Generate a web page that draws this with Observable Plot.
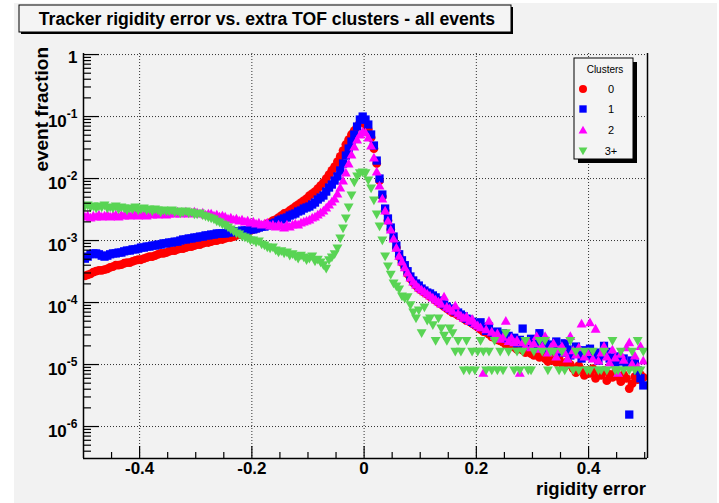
<!DOCTYPE html>
<html><head><meta charset="utf-8">
<script src="https://cdn.jsdelivr.net/npm/d3@7"></script>
<script src="https://cdn.jsdelivr.net/npm/@observablehq/plot@0.6"></script>
<style>
body{margin:0;background:#fff;}
#wrap{position:relative;width:719px;height:503px;overflow:hidden;}
#panel{position:absolute;left:14px;top:3px;width:703px;height:500px;background:#f2f2f2;}
#wrap svg{position:absolute;left:0;top:0;}
</style></head>
<body><div id="wrap"><div id="panel"></div></div>
<script>
// ---- data (histogram, 200 bins of width 0.005 from -0.5 to 0.5) ----
const binStart = -0.5, binWidth = 0.005;
const title = "Tracker rigidity error vs. extra TOF clusters - all events";
const xTitle = "rigidity error";
const yTitle = "event fraction";
const legendTitle = "Clusters";
const seriesNames = ["0", "1", "2", "3+"];
const seriesColors = ["#ff0000", "#0000ff", "#ff00ff", "#59d454"];

const clusters0 = [
2.7e-4,2.8e-4,2.9e-4,3.1e-4,3.2e-4,3.3e-4,3.3e-4,3.4e-4,3.5e-4,3.7e-4,
3.8e-4,4.0e-4,4.0e-4,4.1e-4,4.3e-4,4.4e-4,4.4e-4,4.6e-4,4.8e-4,4.9e-4,
4.9e-4,5.1e-4,5.3e-4,5.5e-4,5.5e-4,5.7e-4,6.0e-4,6.2e-4,6.2e-4,6.4e-4,
6.7e-4,6.9e-4,6.9e-4,7.2e-4,7.4e-4,7.4e-4,7.7e-4,8.0e-4,8.0e-4,8.3e-4,
8.6e-4,8.6e-4,9.0e-4,9.3e-4,9.3e-4,9.6e-4,1.0e-3,1.0e-3,1.04e-3,1.04e-3,
1.08e-3,1.12e-3,1.12e-3,1.16e-3,1.21e-3,1.25e-3,1.30e-3,1.35e-3,1.40e-3,1.45e-3,
1.51e-3,1.56e-3,1.62e-3,1.68e-3,1.75e-3,1.88e-3,1.95e-3,2.10e-3,2.18e-3,2.35e-3,
2.53e-3,2.73e-3,2.83e-3,3.05e-3,3.28e-3,3.54e-3,3.81e-3,4.10e-3,4.42e-3,4.76e-3,
5.32e-3,5.73e-3,6.17e-3,6.90e-3,7.71e-3,8.62e-3,1.00e-2,1.16e-2,1.35e-2,1.56e-2,
1.88e-2,2.27e-2,2.83e-2,3.54e-2,4.26e-2,5.13e-2,5.95e-2,6.90e-2,8.00e-2,8.31e-2,
7.43e-2,6.17e-2,4.59e-2,3.05e-2,1.75e-2,9.28e-3,5.13e-3,3.05e-3,2.10e-3,1.51e-3,
1.08e-3,7.7e-4,5.5e-4,4.4e-4,3.7e-4,2.9e-4,2.44e-4,2.10e-4,1.88e-4,1.68e-4,
1.56e-4,1.45e-4,1.35e-4,1.25e-4,1.21e-4,1.08e-4,1.00e-4,9.3e-5,8.6e-5,8.0e-5,
7.4e-5,6.9e-5,6.7e-5,6.2e-5,6.0e-5,5.5e-5,5.1e-5,4.9e-5,4.6e-5,4.3e-5,
4.0e-5,3.7e-5,3.4e-5,3.3e-5,3.1e-5,2.8e-5,2.7e-5,2.5e-5,2.4e-5,2.3e-5,
2.1e-5,2.0e-5,2.2e-5,1.9e-5,1.75e-5,2.0e-5,1.7e-5,1.56e-5,1.8e-5,1.5e-5,
1.4e-5,1.6e-5,1.3e-5,1.45e-5,1.25e-5,1.12e-5,1.35e-5,1.16e-5,1.08e-5,1.25e-5,
1.04e-5,9.3e-6,1.12e-5,1.0e-5,8.6e-6,7.4e-6,9.6e-6,8.3e-6,6.7e-6,8.0e-6,
7.2e-6,8.6e-6,6.0e-6,7.4e-6,6.7e-6,8.0e-6,5.5e-6,6.9e-6,6.2e-6,7.4e-6,
6.4e-6,5.3e-6,6.9e-6,6.0e-6,4.1e-6,4.9e-6,6.4e-6,5.7e-6,6.9e-6,6.2e-6];

const clusters1 = [
5.1e-4,5.5e-4,6.0e-4,6.2e-4,6.2e-4,6.0e-4,5.7e-4,5.5e-4,5.7e-4,6.0e-4,
6.2e-4,6.2e-4,6.4e-4,6.4e-4,6.7e-4,6.9e-4,6.9e-4,7.2e-4,7.2e-4,7.4e-4,
7.7e-4,7.7e-4,8.0e-4,8.0e-4,8.3e-4,8.3e-4,8.6e-4,8.6e-4,9.0e-4,9.0e-4,
9.3e-4,9.3e-4,9.6e-4,9.6e-4,1.0e-3,1.04e-3,1.04e-3,1.08e-3,1.08e-3,1.12e-3,
1.12e-3,1.16e-3,1.16e-3,1.21e-3,1.21e-3,1.25e-3,1.25e-3,1.30e-3,1.30e-3,1.30e-3,
1.30e-3,1.35e-3,1.35e-3,1.40e-3,1.40e-3,1.40e-3,1.45e-3,1.45e-3,1.45e-3,1.51e-3,
1.51e-3,1.56e-3,1.62e-3,1.68e-3,1.68e-3,1.75e-3,1.81e-3,1.88e-3,1.95e-3,2.10e-3,
2.18e-3,2.27e-3,2.35e-3,2.53e-3,2.63e-3,2.73e-3,2.94e-3,3.05e-3,3.28e-3,3.41e-3,
3.54e-3,3.81e-3,4.10e-3,4.59e-3,4.94e-3,5.32e-3,6.17e-3,7.16e-3,8.00e-3,9.28e-3,
1.08e-2,1.35e-2,1.75e-2,2.35e-2,3.05e-2,3.95e-2,5.13e-2,6.90e-2,8.95e-2,1.00e-1,
8.95e-2,7.43e-2,5.13e-2,3.41e-2,1.95e-2,1.00e-2,5.52e-3,3.28e-3,2.27e-3,1.62e-3,
1.16e-3,8.3e-4,6.0e-4,4.8e-4,4.0e-4,3.2e-4,2.63e-4,2.27e-4,2.03e-4,1.88e-4,
1.68e-4,1.56e-4,1.45e-4,1.40e-4,1.30e-4,1.21e-4,1.08e-4,1.00e-4,9.3e-5,8.6e-5,
8.0e-5,7.7e-5,7.2e-5,6.9e-5,6.4e-5,6.0e-5,5.5e-5,5.3e-5,4.9e-5,4.6e-5,
4.3e-5,4.8e-5,4.0e-5,3.5e-5,4.1e-5,3.3e-5,3.1e-5,3.4e-5,2.8e-5,3.2e-5,
2.6e-5,2.9e-5,2.4e-5,2.7e-5,2.2e-5,2.5e-5,3.8e-5,2.1e-5,2.35e-5,2.6e-5,
2.0e-5,2.3e-5,3.2e-5,1.95e-5,2.4e-5,1.8e-5,2.1e-5,1.7e-5,2.35e-5,1.9e-5,
1.56e-5,2.2e-5,1.75e-5,1.4e-5,1.6e-5,1.95e-5,1.5e-5,1.25e-5,1.7e-5,1.45e-5,
1.8e-5,1.35e-5,1.56e-5,1.16e-5,1.4e-5,2.0e-5,1.6e-5,1.25e-5,1.3e-5,1.08e-5,
1.35e-5,1.12e-5,1.25e-5,9.6e-6,1.56e-6,1.16e-5,1.04e-5,8.0e-6,6.0e-6,4.6e-6];

const clusters2 = [
2.44e-3,2.53e-3,2.35e-3,2.53e-3,2.44e-3,2.63e-3,2.44e-3,2.53e-3,2.63e-3,2.44e-3,
2.53e-3,2.63e-3,2.44e-3,2.63e-3,2.53e-3,2.73e-3,2.53e-3,2.63e-3,2.73e-3,2.53e-3,
2.63e-3,2.73e-3,2.53e-3,2.73e-3,2.63e-3,2.83e-3,2.63e-3,2.73e-3,2.83e-3,2.63e-3,
2.73e-3,2.83e-3,2.73e-3,2.94e-3,2.73e-3,2.83e-3,2.94e-3,2.73e-3,2.83e-3,2.94e-3,
2.83e-3,2.73e-3,2.83e-3,2.63e-3,2.73e-3,2.73e-3,2.53e-3,2.63e-3,2.44e-3,2.53e-3,
2.44e-3,2.27e-3,2.35e-3,2.18e-3,2.27e-3,2.10e-3,2.18e-3,2.03e-3,2.10e-3,1.95e-3,
2.03e-3,1.88e-3,1.95e-3,1.81e-3,1.88e-3,1.95e-3,1.75e-3,1.81e-3,1.68e-3,1.81e-3,
1.75e-3,1.62e-3,1.81e-3,1.68e-3,1.81e-3,1.88e-3,1.81e-3,1.95e-3,2.03e-3,2.10e-3,
2.18e-3,2.35e-3,2.44e-3,2.63e-3,2.83e-3,3.05e-3,3.41e-3,3.81e-3,4.26e-3,4.76e-3,
5.73e-3,7.16e-3,9.28e-3,1.25e-2,1.75e-2,2.44e-2,3.28e-2,4.26e-2,5.13e-2,5.73e-2,
5.52e-2,4.59e-2,3.41e-2,2.18e-2,1.30e-2,7.71e-3,4.76e-3,3.05e-3,2.10e-3,1.51e-3,
1.08e-3,7.7e-4,5.7e-4,4.6e-4,3.7e-4,3.05e-4,2.53e-4,2.18e-4,1.95e-4,1.75e-4,
1.62e-4,1.51e-4,1.40e-4,1.30e-4,1.21e-4,1.12e-4,1.04e-4,9.6e-5,1.25e-4,8.6e-5,
8.0e-5,7.4e-5,9.0e-5,6.7e-5,6.2e-5,5.7e-5,6.0e-5,5.1e-5,5.5e-5,4.6e-5,
4.3e-5,4.0e-5,7.4e-6,3.7e-5,5.1e-5,3.4e-5,2.9e-5,3.2e-5,2.6e-5,2.8e-5,
5.1e-5,2.4e-5,2.7e-5,2.3e-5,2.5e-5,7.4e-6,2.3e-5,2.0e-5,2.4e-5,1.9e-5,
2.2e-5,2.9e-5,1.8e-5,2.0e-5,2.9e-5,1.56e-5,1.9e-5,2.2e-5,1.35e-5,1.75e-5,
2.0e-5,1.56e-5,1.25e-5,2.9e-5,1.7e-5,1.45e-5,1.9e-5,4.6e-5,1.35e-5,1.6e-5,
4.8e-5,1.25e-5,3.8e-5,1.16e-5,1.56e-5,2.0e-5,1.35e-5,1.08e-5,1.75e-5,1.3e-5,
7.4e-6,1.5e-5,1.2e-5,1.9e-5,2.3e-5,1.04e-5,1.4e-5,9.3e-6,2.0e-5,1.16e-5];

const clusters3 = [
3.54e-3,3.67e-3,3.41e-3,3.54e-3,3.28e-3,3.54e-3,3.41e-3,3.67e-3,3.28e-3,3.41e-3,
3.28e-3,3.54e-3,3.16e-3,3.41e-3,3.28e-3,3.05e-3,3.28e-3,3.16e-3,3.41e-3,3.05e-3,
3.16e-3,3.28e-3,3.05e-3,3.16e-3,2.94e-3,3.16e-3,3.05e-3,2.83e-3,3.05e-3,2.94e-3,
2.94e-3,3.05e-3,2.83e-3,2.94e-3,2.73e-3,2.83e-3,2.94e-3,2.73e-3,2.83e-3,2.63e-3,
2.63e-3,2.73e-3,2.53e-3,2.44e-3,2.35e-3,2.27e-3,2.18e-3,2.03e-3,1.95e-3,1.81e-3,
1.75e-3,1.62e-3,1.51e-3,1.40e-3,1.30e-3,1.25e-3,1.16e-3,1.12e-3,1.08e-3,1.00e-3,
1.00e-3,9.3e-4,9.6e-4,8.6e-4,8.3e-4,7.7e-4,7.4e-4,7.7e-4,6.9e-4,6.4e-4,
6.7e-4,6.2e-4,6.4e-4,5.7e-4,6.0e-4,5.5e-4,5.1e-4,5.7e-4,5.3e-4,4.8e-4,
5.1e-4,5.5e-4,4.6e-4,4.9e-4,4.4e-4,4.0e-4,3.5e-4,4.8e-4,5.3e-4,6.0e-4,
7.4e-4,1.08e-3,1.56e-3,2.27e-3,3.41e-3,5.32e-3,8.62e-3,1.08e-2,1.21e-2,1.25e-2,
1.21e-2,9.28e-3,6.90e-3,4.42e-3,2.63e-3,1.68e-3,1.00e-3,5.5e-4,3.8e-4,2.8e-4,
2.03e-4,1.81e-4,1.62e-4,1.25e-4,1.16e-4,1.21e-4,9.0e-5,6.9e-5,5.5e-5,7.4e-5,
3.2e-5,8.3e-5,5.1e-5,5.5e-5,4.3e-5,2.4e-5,5.5e-5,3.8e-5,2.9e-5,2.4e-5,
3.8e-5,3.2e-5,1.6e-5,2.4e-5,1.6e-5,8.0e-6,2.4e-5,8.0e-6,1.6e-5,8.0e-6,
1.6e-5,2.4e-5,1.6e-5,8.0e-6,1.6e-5,8.0e-6,2.4e-5,8.0e-6,1.6e-5,8.0e-6,
3.2e-5,1.6e-5,null,8.0e-6,1.6e-5,8.0e-6,1.6e-5,2.4e-5,8.0e-6,8.0e-6,
1.6e-5,null,2.4e-5,1.6e-5,2.4e-5,8.0e-6,1.6e-5,1.6e-5,null,8.0e-6,
1.6e-5,8.0e-6,null,2.4e-5,8.0e-6,1.6e-5,8.0e-6,null,1.6e-5,8.0e-6,
8.0e-6,1.6e-5,null,8.0e-6,8.0e-6,1.6e-5,8.0e-6,null,2.4e-5,8.0e-6,
8.0e-6,1.6e-5,8.0e-6,null,8.0e-6,1.6e-5,8.0e-6,2.4e-5,8.0e-6,1.6e-5];

const xDomain = [-0.5, 0.505];
const yDomain = [3.05e-7, 1.04];
const xMajor = [-0.4, -0.2, 0, 0.2, 0.4];
const xMinor = [-0.45,-0.35,-0.3,-0.25,-0.15,-0.1,-0.05,0.05,0.1,0.15,0.25,0.3,0.35,0.45,0.5];
const yMajor = [1e-6, 1e-5, 1e-4, 1e-3, 1e-2, 1e-1, 1];
const yMinor = [];
for (const dec of [1e-7,1e-6,1e-5,1e-4,1e-3,1e-2,1e-1]) for (let m = 2; m <= 9; m++) { const v = m*dec; if (v >= yDomain[0]) yMinor.push(v); }

// ---- marker shapes ----
const R = s => Math.sqrt(s / Math.PI);
const circle = {draw(c, s){ const r = R(s); c.moveTo(r, 0); c.arc(0, 0, r, 0, 2*Math.PI); c.closePath(); }};
const square = {draw(c, s){ const r = R(s)*0.92; c.rect(-r, -r, 2*r, 2*r); }};
const triUp = {draw(c, s){ const r = R(s); c.moveTo(0, -r*1.05); c.lineTo(r*1.1, r*0.9); c.lineTo(-r*1.1, r*0.9); c.closePath(); }};
const triDown = {draw(c, s){ const r = R(s); c.moveTo(0, r*1.05); c.lineTo(r*1.1, -r*0.9); c.lineTo(-r*1.1, -r*0.9); c.closePath(); }};
const symbols = [circle, square, triUp, triDown];
const markerR = [4.4, 4.5, 4.5, 4.5];

const allSeries = [clusters0, clusters1, clusters2, clusters3];
const rows = allSeries.map(arr => arr.map((v, i) => ({x: binStart + binWidth*(i + 0.5), y: v})));

const W = 719, H = 503, mL = 83, mR = 72, mT = 53, mB = 45;
const plotW = W - mL - mR, plotH = H - mT - mB;
const font = "'Liberation Sans', Arial, Helvetica, sans-serif";
const dash = {stroke: "#000", strokeOpacity: 0.8, strokeDasharray: "1,2", strokeWidth: 1};

const svg = Plot.plot({
  width: W, height: H,
  marginLeft: mL, marginRight: mR, marginTop: mT, marginBottom: mB,
  style: {background: "transparent", fontFamily: font, fontSize: "17px", fontWeight: "bold", color: "#000", overflow: "visible"},
  x: {domain: xDomain},
  y: {type: "log", domain: yDomain},
  marks: [
    Plot.ruleX(xMajor, {x: d => d, ...dash}),
    Plot.ruleY(yMajor, {y: d => d, ...dash}),
    ...rows.map((r, k) => Plot.dot(r, {x: "x", y: "y", symbol: symbols[k], r: markerR[k], fill: seriesColors[k], stroke: "none", clip: true})),
    Plot.tickY(yMajor, {y: d => d, insetRight: plotW - 16, stroke: "#000", strokeWidth: 1.2}),
    Plot.tickY(yMinor, {y: d => d, insetRight: plotW - 8, stroke: "#000", strokeWidth: 1.2}),
    Plot.tickX(xMajor, {x: d => d, insetTop: plotH - 12, stroke: "#000", strokeWidth: 1.2}),
    Plot.tickX(xMinor, {x: d => d, insetTop: plotH - 6, stroke: "#000", strokeWidth: 1.2}),
    Plot.ruleX(xDomain, {x: d => d, stroke: "#000", strokeWidth: 1.5}),
    Plot.ruleY([yDomain[0]], {y: d => d, stroke: "#000", strokeWidth: 1.5}),
    Plot.axisX({ticks: xMajor, tickSize: 0, tickPadding: 3, label: null,
      tickFormat: d => d === 0 ? "0" : (d < 0 ? "-" : "") + Math.abs(d).toFixed(1)}),
    Plot.axisY({ticks: yMajor, tickSize: 0, tickPadding: 6, label: null,
      tickFormat: d => d === 1 ? "1" : "10^" + Math.round(Math.log10(d))})
  ]
});

const s = d3.select(svg);
// superscript exponents on the y tick labels
s.selectAll('g[aria-label="y-axis tick label"] text').each(function(){
  const t = this.textContent;
  const el = d3.select(this);
  el.attr("y", null).attr("dy", null);
  if (t.startsWith("10^")) {
    const e = t.slice(3);
    this.textContent = "";
    el.append("tspan").attr("dy", 10).text("10");
    el.append("tspan").attr("dy", -8.5).attr("font-size", 12).text(e);
  } else {
    el.attr("dy", 8);
  }
});

// title pave
const g = s.append("g").attr("font-family", font);
g.append("rect").attr("x", 21).attr("y", 7).attr("width", 492).attr("height", 27).attr("fill", "#000");
g.append("rect").attr("x", 19).attr("y", 5).attr("width", 492).attr("height", 27).attr("fill", "#f4f4f4").attr("stroke", "#000").attr("stroke-width", 1);
g.append("text").attr("x", 267).attr("y", 25).attr("text-anchor", "middle").attr("font-size", 17.6).attr("font-weight", "bold").attr("fill", "#000").text(title);

// axis titles
g.append("text").attr("x", 646).attr("y", 495).attr("text-anchor", "end").attr("font-size", 18.5).attr("font-weight", "bold").text(xTitle);
g.append("text").attr("transform", "translate(48,47) rotate(-90)").attr("text-anchor", "end").attr("font-size", 19).attr("font-weight", "bold").text(yTitle);

// legend
const lg = s.append("g").attr("font-family", font);
lg.append("rect").attr("x", 578).attr("y", 62).attr("width", 59).attr("height", 101).attr("fill", "#000");
lg.append("rect").attr("x", 574).attr("y", 58).attr("width", 59).attr("height", 101).attr("fill", "#f4f4f4").attr("stroke", "#000").attr("stroke-width", 1);
lg.append("text").attr("x", 605).attr("y", 73).attr("text-anchor", "middle").attr("font-size", 10).attr("font-weight", "normal").text(legendTitle);
const ly = [89, 109, 130, 151];
seriesNames.forEach((nm, k) => {
  lg.append("path").attr("transform", `translate(583,${ly[k]})`).attr("fill", seriesColors[k])
    .attr("d", d3.symbol().type(symbols[k]).size(Math.PI*16)());
  lg.append("text").attr("x", 611).attr("y", ly[k] + 4).attr("text-anchor", "middle").attr("font-size", 11).attr("font-weight", "normal").text(nm);
});

document.getElementById("wrap").appendChild(svg);
</script>
</body></html>
